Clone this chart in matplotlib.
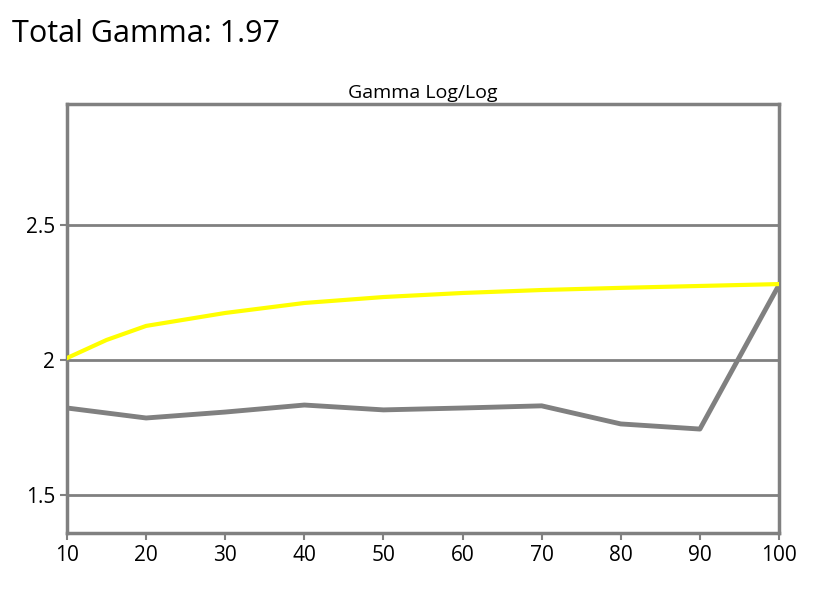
import matplotlib
matplotlib.use("Agg")
import matplotlib.pyplot as plt

plt.rcParams["font.family"] = ["Open Sans", "DejaVu Sans"]

# ── Data ───────────────────────────────────────────────────────────────────────
x_measured = [10, 20, 30, 40, 50, 60, 70, 80, 90, 100]
gamma_measured = [1.822, 1.785, 1.807, 1.833, 1.815, 1.822, 1.83, 1.763, 1.744, 2.278]

x_target = [10, 15, 20, 30, 40, 50, 60, 70, 80, 90, 100]
gamma_target = [2.007, 2.074, 2.126, 2.174, 2.211, 2.233, 2.248, 2.259, 2.267, 2.274, 2.281]

x_ticks = [10, 20, 30, 40, 50, 60, 70, 80, 90, 100]
y_ticks = [1.5, 2, 2.5]
y_labels = ["1.5", "2", "2.5"]

# ── Plot ───────────────────────────────────────────────────────────────────────
fig = plt.figure(figsize=(8.34, 5.96), dpi=100)
ax = fig.add_axes([67 / 834, 1 - 533 / 596, 712 / 834, 429 / 596])

for yv in y_ticks:
    ax.axhline(yv, color="#808080", lw=2, zorder=1)

ax.plot(x_target, gamma_target, color="#ffff00", lw=3, zorder=3)
ax.plot(x_measured, gamma_measured, color="#808080", lw=3.5, zorder=2)

ax.set_xlim(10, 100)
ax.set_ylim(1.359, 2.948)
ax.set_xticks(x_ticks)
ax.set_yticks(y_ticks)
ax.set_yticklabels(y_labels)
ax.tick_params(labelsize=15, color="#808080", length=5, width=1.5)
for s in ax.spines.values():
    s.set_color("#808080")
    s.set_linewidth(2.5)

ax.set_title("Gamma Log/Log", fontsize=14, pad=4)
fig.text(12 / 834, 1 - 34 / 596, "Total Gamma: 1.97", fontsize=22, va="center")

fig.savefig("out.png", dpi=100)
